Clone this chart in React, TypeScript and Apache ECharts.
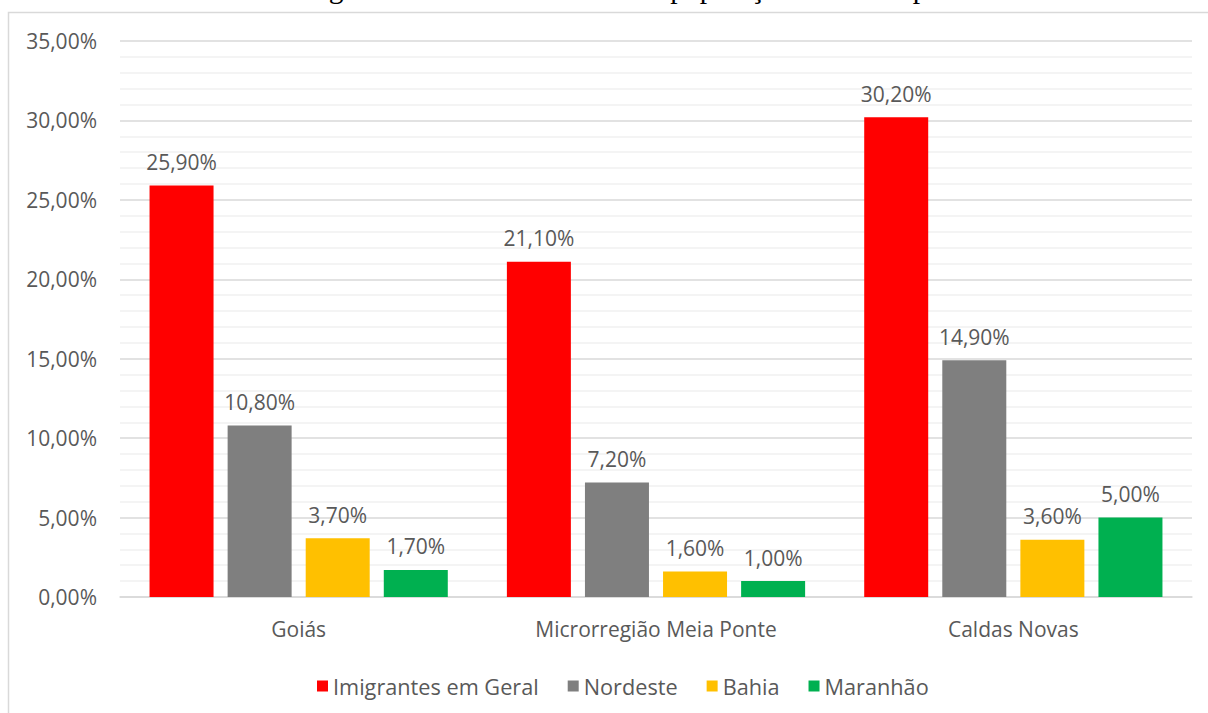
import React, { useEffect, useRef } from "react";
import * as echarts from "echarts";

const categories = ["Goiás", "Microrregião Meia Ponte", "Caldas Novas"];
const seriesNames = ["Imigrantes em Geral", "Nordeste", "Bahia", "Maranhão"];
const imigrantes = [25.9, 21.1, 30.2];
const nordeste = [10.8, 7.2, 14.9];
const bahia = [3.7, 1.6, 3.6];
const maranhao = [1.7, 1.0, 5.0];
const colors = ["#FF0000", "#7F7F7F", "#FFC000", "#00B050"];
const titleText =
  "Gráfico 03: Censo Demográfico 2010 - Percentual da população residente por local de nascimento.";

const fmt = (v: number) => v.toFixed(2).replace(".", ",") + "%";
const FONT = "'Open Sans', 'Noto Sans', sans-serif";
const FS = 21;

export default function App() {
  const ref = useRef<HTMLDivElement>(null);
  useEffect(() => {
    if (!ref.current) return;
    const chart = echarts.init(ref.current, undefined, { renderer: "svg" });
    const data = [imigrantes, nordeste, bahia, maranhao];
    chart.setOption({
      animation: false,
      backgroundColor: "#ffffff",
      textStyle: { fontFamily: FONT },
      graphic: [
        {
          type: "rect",
          shape: { x: 8.5, y: 12.5, width: 1300, height: 800 },
          style: { fill: "none", stroke: "#d9d9d9", lineWidth: 1.5 },
          silent: true,
          z: -1,
        },
        {
          type: "text",
          x: 33,
          y: 3,
          style: {
            text: titleText,
            font: "29.5px 'Liberation Serif', 'Times New Roman', serif",
            fill: "#000000",
            verticalAlign: "bottom",
          },
        },
      ],
      grid: { left: 120, right: 16, top: 41, bottom: 116 },
      legend: {
        data: seriesNames,
        top: 670,
        left: 312,
        itemWidth: 11,
        itemHeight: 11,
        itemGap: 29,
        icon: "rect",
        textStyle: { color: "#595959", fontSize: 21.7, fontFamily: FONT },
      },
      xAxis: {
        type: "category",
        data: categories,
        axisTick: { show: false },
        axisLine: { lineStyle: { color: "#d9d9d9", width: 1.5 } },
        axisLabel: { color: "#595959", fontSize: FS, margin: 21, fontFamily: FONT },
      },
      yAxis: {
        type: "value",
        min: 0,
        max: 35,
        interval: 5,
        axisLine: { show: false },
        axisTick: { show: false },
        axisLabel: {
          color: "#595959",
          fontSize: FS,
          margin: 23,
          fontFamily: FONT,
          formatter: (v: number) => fmt(v),
        },
        splitLine: { lineStyle: { color: "#d9d9d9", width: 1.5 } },
        minorTick: { show: false, splitNumber: 5 },
        minorSplitLine: { show: true, lineStyle: { color: "#f0f0f0", width: 1.5 } },
      },
      series: seriesNames.map((name, i) => ({
        name,
        type: "bar",
        data: data[i],
        barWidth: 64,
        barGap: "22%",
        itemStyle: { color: colors[i] },
        label: {
          show: true,
          position: "top",
          distance: 13,
          color: "#595959",
          fontSize: FS,
          fontFamily: FONT,
          formatter: (p: any) => fmt(p.value),
        },
      })),
    });
    return () => chart.dispose();
  }, []);
  return (
    <div
      ref={ref}
      style={{ position: "fixed", left: 0, top: 0, width: 1208, height: 713 }}
    />
  );
}
